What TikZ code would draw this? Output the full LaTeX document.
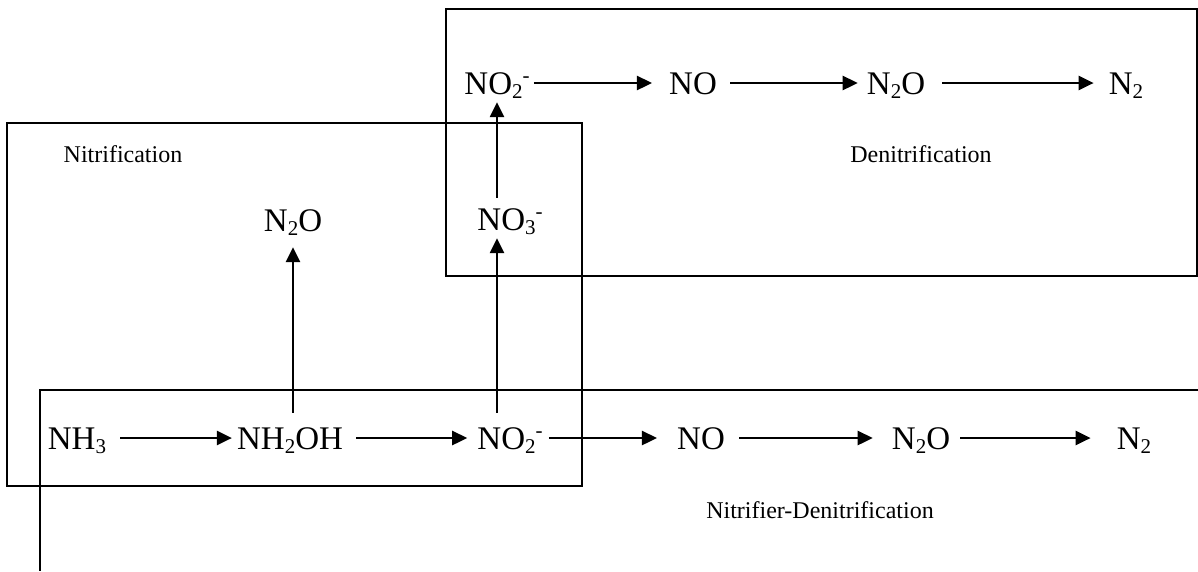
\documentclass[tikz,border=0pt]{standalone}
\usepackage{fontspec}
\setmainfont{Liberation Serif}
\usetikzlibrary{arrows.meta}
\newcommand\chsub[1]{\raisebox{-4pt}{\fontsize{21}{21}\selectfont #1}}
\newcommand\chsup[1]{\raisebox{12pt}{\fontsize{21}{21}\selectfont #1}}
\begin{document}
\begin{tikzpicture}[x=1pt,y=-1pt,
  chem/.style={inner sep=0pt, text height=22pt, text depth=0pt, font=\fontsize{33}{36}\selectfont},
  lbl/.style={inner sep=0pt, font=\fontsize{24}{28}\selectfont},
  frame/.style={line width=2.7pt},
  arr/.style={line width=2.5pt, -{Triangle[length=15pt,width=14pt]}}]
\useasboundingbox[fill=white] (0,0) rectangle (1198,571);

% frames
\draw[frame] (7,123) rectangle (582,486);
\draw[frame] (446,9) rectangle (1197,276);
\draw[frame] (1198,390) -- (40,390) -- (40,571);

% labels
\node[lbl] (lnit) at (123,154) {Nitrification};
\node[lbl] (ldenit) at (921,154) {Denitrification};
\node[lbl] (lnd) at (820,510) {Nitrifier-Denitrification};

% bottom row
\node[chem] (nh3) at (77,438) {NH\chsub{3}};
\node[chem] (nh2oh) at (290,438) {NH\chsub{2}OH};
\node[chem] (no2b) at (510,438) {NO\chsub{2}\chsup{-}};
\node[chem] (nob) at (701,438) {NO};
\node[chem] (n2ob) at (921,438) {N\chsub{2}O};
\node[chem] (n2b) at (1134,438) {N\chsub{2}};

% middle
\node[chem] (n2om) at (293,220) {N\chsub{2}O};
\node[chem] (no3) at (510,219) {NO\chsub{3}\chsup{-}};

% top row
\node[chem] (no2t) at (497,83) {NO\chsub{2}\chsup{-}};
\node[chem] (not) at (693,83) {NO};
\node[chem] (n2ot) at (896,83) {N\chsub{2}O};
\node[chem] (n2t) at (1126,83) {N\chsub{2}};

% bottom arrows
\draw[arr, shorten <=14pt, shorten >=5pt] (nh3) -- (nh2oh);
\draw[arr, shorten <=13pt, shorten >=10pt] (nh2oh) -- (no2b);
\draw[arr, shorten <=6pt, shorten >=20pt] (no2b) -- (nob);
\draw[arr, shorten <=14pt, shorten >=19pt] (nob) -- (n2ob);
\draw[arr, shorten <=10pt, shorten >=26pt] (n2ob) -- (n2b);

% top arrows
\draw[arr, shorten <=4pt, shorten >=17pt] (no2t) -- (not);
\draw[arr, shorten <=13pt, shorten >=9pt] (not) -- (n2ot);
\draw[arr, shorten <=17pt, shorten >=15pt] (n2ot) -- (n2t);

% vertical arrows
\coordinate (vx) at (497,0);
\coordinate (vx2) at (293,0);
\draw[arr, shorten <=14pt, shorten >=8pt] (no2b.north -| vx) -- (no3.south -| vx);
\draw[arr, shorten <=10pt, shorten >=8pt] (no3.north -| vx) -- (no2t.south -| vx);
\draw[arr, shorten <=14pt, shorten >=16pt] (nh2oh.north -| vx2) -- (n2om.south -| vx2);
\end{tikzpicture}
\end{document}
